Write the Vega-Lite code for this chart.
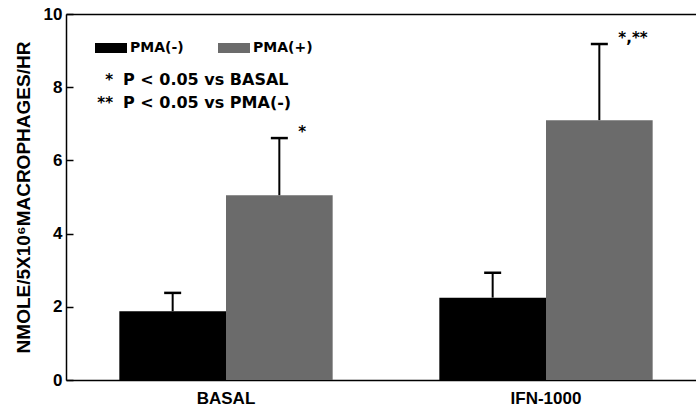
{
  "$schema": "https://vega.github.io/schema/vega-lite/v6.json",
  "autosize": "none",
  "width": 630,
  "height": 366,
  "padding": {"left": 66, "top": 14, "right": 0, "bottom": 29},
  "background": "white",
  "config": {
    "view": {"stroke": null},
    "font": "Liberation Sans",
    "axis": {"domainColor": "black", "domainWidth": 1.5, "tickColor": "black", "labelColor": "black", "titleColor": "black", "grid": false}
  },
  "data": {
    "values": [
      {"group": "BASAL", "treatment": "PMA(-)", "mean": 1.88, "upper": 2.38, "sig": ""},
      {"group": "BASAL", "treatment": "PMA(+)", "mean": 5.05, "upper": 6.61, "sig": "*"},
      {"group": "IFN-1000", "treatment": "PMA(-)", "mean": 2.25, "upper": 2.93, "sig": ""},
      {"group": "IFN-1000", "treatment": "PMA(+)", "mean": 7.1, "upper": 9.18, "sig": "*,**"}
    ]
  },
  "resolve": {"axis": {"x": "independent"}},
  "layer": [
    {
      "mark": {"type": "bar"},
      "encoding": {
        "x": {
          "field": "group", "type": "nominal",
          "scale": {"domain": ["BASAL", "IFN-1000"], "range": [0, 640], "paddingInner": 0, "paddingOuter": 0},
          "axis": {"orient": "bottom", "title": null, "labelAngle": 0, "ticks": false, "labelPadding": 10, "labelFont": "Liberation Sans", "labelFontWeight": "bold", "labelFontSize": 17}
        },
        "xOffset": {
          "field": "treatment", "type": "nominal",
          "scale": {"domain": ["PMA(-)", "PMA(+)"], "paddingInner": 0, "paddingOuter": 0.5}
        },
        "y": {
          "field": "mean", "type": "quantitative",
          "scale": {"domain": [0, 10], "nice": false},
          "axis": {
            "values": [0, 2, 4, 6, 8, 10],
            "tickSize": -7, "tickWidth": 1.5, "labelPadding": 11,
            "labelFont": "Liberation Sans", "labelFontWeight": "bold", "labelFontSize": 17,
            "title": "NMOLE/5X10⁶MACROPHAGES/HR",
            "titleFont": "Liberation Sans", "titleFontWeight": "bold", "titleFontSize": 19, "titlePadding": 10
          }
        },
        "color": {
          "field": "treatment", "type": "nominal",
          "scale": {"domain": ["PMA(-)", "PMA(+)"], "range": ["#000000", "#6b6b6b"]},
          "legend": {
            "orient": "none", "legendX": 35, "legendY": 24, "direction": "horizontal",
            "title": null, "symbolType": "M-1.6,-0.5H1.6V0.5H-1.6Z", "symbolSize": 400,
            "symbolStrokeWidth": 0, "symbolOpacity": 1, "labelOffset": 9, "columnPadding": 34,
            "labelFont": "DejaVu Sans", "labelFontWeight": "bold", "labelFontSize": 14, "labelColor": "black"
          }
        }
      }
    },
    {
      "mark": {"type": "rule", "color": "black", "strokeWidth": 2},
      "encoding": {
        "x": {"field": "group", "type": "nominal", "axis": {"orient": "top", "labels": false, "ticks": false, "title": null, "domain": true}},
        "xOffset": {"field": "treatment", "type": "nominal"},
        "y": {"field": "mean", "type": "quantitative"},
        "y2": {"field": "upper"}
      }
    },
    {
      "mark": {"type": "tick", "color": "black", "size": 17, "thickness": 2.5, "opacity": 1},
      "encoding": {
        "x": {"field": "group", "type": "nominal", "axis": null},
        "xOffset": {"field": "treatment", "type": "nominal"},
        "y": {"field": "upper", "type": "quantitative"}
      }
    },
    {
      "mark": {"type": "text", "align": "left", "baseline": "middle", "dx": 19, "dy": -6, "font": "DejaVu Sans", "fontWeight": "bold", "fontSize": 15, "color": "black"},
      "encoding": {
        "x": {"field": "group", "type": "nominal", "axis": null},
        "xOffset": {"field": "treatment", "type": "nominal"},
        "y": {"field": "upper", "type": "quantitative"},
        "text": {"field": "sig"}
      }
    },
    {
      "data": {"values": [{"star": "*", "note": "P < 0.05 vs BASAL"}]},
      "layer": [
        {
          "mark": {"type": "text", "align": "right", "baseline": "middle", "dx": 47, "font": "DejaVu Sans", "fontWeight": "bold", "fontSize": 15, "color": "black"},
          "encoding": {"x": {"datum": "BASAL", "bandPosition": 0, "axis": null}, "y": {"datum": 8.2}, "text": {"field": "star"}}
        },
        {
          "mark": {"type": "text", "align": "left", "baseline": "middle", "dx": 57, "font": "DejaVu Sans", "fontWeight": "bold", "fontSize": 16, "color": "black"},
          "encoding": {"x": {"datum": "BASAL", "bandPosition": 0, "axis": null}, "y": {"datum": 8.2}, "text": {"field": "note"}}
        }
      ]
    },
    {
      "data": {"values": [{"star": "**", "note": "P < 0.05 vs PMA(-)"}]},
      "layer": [
        {
          "mark": {"type": "text", "align": "right", "baseline": "middle", "dx": 47, "font": "DejaVu Sans", "fontWeight": "bold", "fontSize": 15, "color": "black"},
          "encoding": {"x": {"datum": "BASAL", "bandPosition": 0, "axis": null}, "y": {"datum": 7.57}, "text": {"field": "star"}}
        },
        {
          "mark": {"type": "text", "align": "left", "baseline": "middle", "dx": 57, "font": "DejaVu Sans", "fontWeight": "bold", "fontSize": 16, "color": "black"},
          "encoding": {"x": {"datum": "BASAL", "bandPosition": 0, "axis": null}, "y": {"datum": 7.57}, "text": {"field": "note"}}
        }
      ]
    }
  ]
}
